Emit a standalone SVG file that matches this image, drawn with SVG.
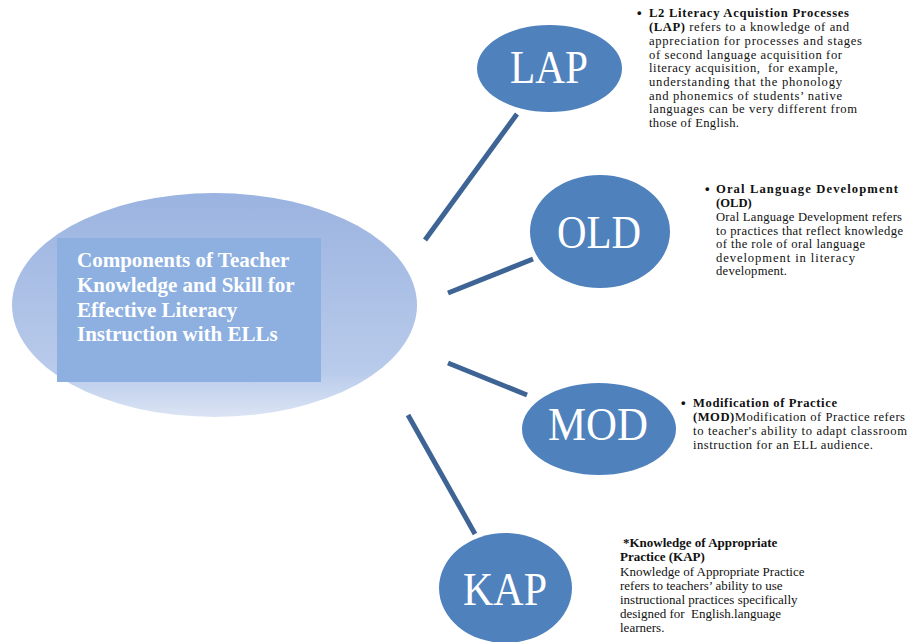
<svg xmlns="http://www.w3.org/2000/svg" width="909" height="642" viewBox="0 0 909 642">
<defs>
<linearGradient id="mg" x1="0" y1="0" x2="0" y2="1">
<stop offset="0" stop-color="#9bb3e0"/>
<stop offset="0.8" stop-color="#b9cbeb"/>
<stop offset="1" stop-color="#dbe4f4"/>
</linearGradient>
</defs>
<style>
.node{fill:#4f81bd}
.nl{font-family:"Liberation Serif",serif;font-size:46px;fill:#fff;text-anchor:middle}
.conn line{stroke:#3d6494;stroke-width:5}
.d{font-family:"Liberation Serif",serif;font-size:12.6px;fill:#111}
.b{font-weight:bold}
.bl{font-family:"Liberation Sans",sans-serif;font-size:13px;font-weight:bold;fill:#111}
.t{font-family:"Liberation Serif",serif;font-size:13px;fill:#111}
.mt{font-family:"Liberation Serif",serif;font-size:21px;font-weight:bold;fill:#fff}
</style>
<rect width="909" height="642" fill="#fff"/>
<g id="connectors" class="conn">
<line x1="517" y1="114" x2="425" y2="240"/>
<line x1="533" y1="259" x2="448" y2="293"/>
<line x1="448" y1="363" x2="527" y2="395"/>
<line x1="408" y1="415" x2="475" y2="534"/>
</g>
<g id="main">
<ellipse cx="214.5" cy="305" rx="202.5" ry="112" fill="url(#mg)"/>
<rect x="57" y="238" width="264" height="144" fill="#8db0e1"/>
<text class="mt" x="77" y="267">Components of Teacher</text>
<text class="mt" x="77" y="292">Knowledge and Skill for</text>
<text class="mt" x="77" y="317">Effective Literacy</text>
<text class="mt" x="77" y="341">Instruction with ELLs</text>
</g>
<g id="lap">
<ellipse class="node" cx="549.5" cy="68.5" rx="72.5" ry="43.5"/>
<text class="nl" x="549" y="83" textLength="78" lengthAdjust="spacingAndGlyphs">LAP</text>
</g>
<g id="old">
<ellipse class="node" cx="600" cy="231.5" rx="70" ry="56.5"/>
<text class="nl" x="599" y="248" textLength="84" lengthAdjust="spacingAndGlyphs">OLD</text>
</g>
<g id="mod">
<ellipse class="node" cx="599" cy="429" rx="77" ry="46"/>
<text class="nl" x="598" y="440" textLength="100" lengthAdjust="spacingAndGlyphs">MOD</text>
</g>
<g id="kap">
<ellipse class="node" cx="505.5" cy="588" rx="66.5" ry="55"/>
<text class="nl" x="505" y="605" textLength="84" lengthAdjust="spacingAndGlyphs">KAP</text>
</g>
<g id="lap-text" class="d">
<text x="637" y="17" class="bl">•</text>
<text x="649" y="17" class="b" textLength="200">L2 Literacy Acquistion Processes</text>
<text x="649" y="31" textLength="200"><tspan class="b">(LAP)</tspan> refers to a knowledge of and</text>
<text x="649" y="45" textLength="213">appreciation for processes and stages</text>
<text x="649" y="58.5" textLength="193">of second language acquisition for</text>
<text x="649" y="72" textLength="189" xml:space="preserve">literacy acquisition,  for example,</text>
<text x="649" y="86" textLength="193">understanding that the phonology</text>
<text x="649" y="99.5" textLength="193">and phonemics of students’ native</text>
<text x="649" y="113" textLength="208">languages can be very different from</text>
<text x="649" y="127" textLength="90">those of English.</text>
</g>
<g id="old-text" class="d">
<text x="705" y="193" class="bl">•</text>
<text x="716" y="193" class="b" textLength="182">Oral Language Development</text>
<text x="716" y="207" class="b">(OLD)</text>
<text x="716" y="221" textLength="186">Oral Language Development refers</text>
<text x="716" y="234.5" textLength="187">to practices that reflect knowledge</text>
<text x="716" y="248" textLength="149">of the role of oral language</text>
<text x="716" y="261.5" textLength="139">development in literacy</text>
<text x="716" y="275" textLength="71">development.</text>
</g>
<g id="mod-text" class="d">
<text x="681" y="407" class="bl">•</text>
<text x="693" y="407" class="b" textLength="144">Modification of Practice</text>
<text x="693" y="421" textLength="212"><tspan class="b">(MOD)</tspan>Modification of Practice refers</text>
<text x="693" y="435" textLength="214">to teacher's ability to adapt classroom</text>
<text x="693" y="448.5" textLength="180">instruction for an ELL audience.</text>
</g>
<g id="kap-text" class="t">
<text x="623" y="547" class="b">*Knowledge of Appropriate</text>
<text x="620" y="561" class="b">Practice (KAP)</text>
<text x="620" y="576">Knowledge of Appropriate Practice</text>
<text x="620" y="590">refers to teachers’ ability to use</text>
<text x="620" y="604">instructional practices specifically</text>
<text x="620" y="618" xml:space="preserve">designed for  English.language</text>
<text x="620" y="632">learners.</text>
</g>
</svg>
